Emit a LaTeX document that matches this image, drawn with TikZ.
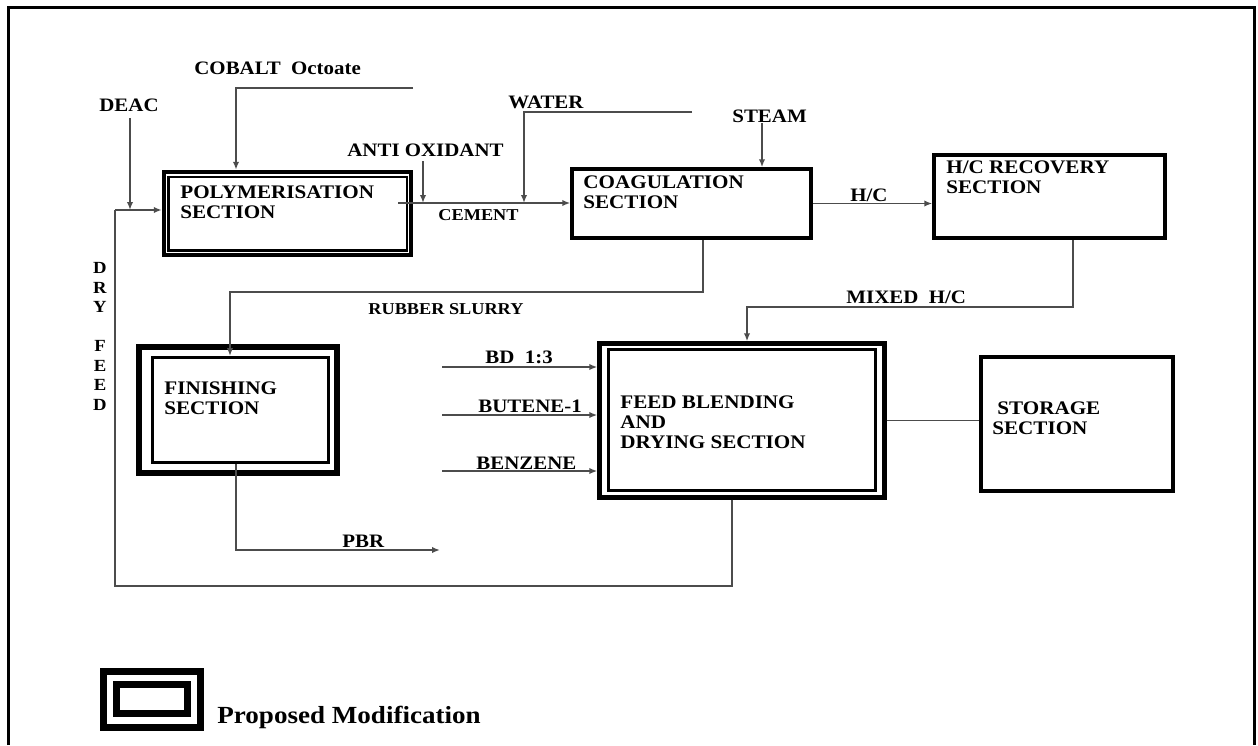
\documentclass[tikz,border=0pt]{standalone}
\usepackage{fontspec}
\setmainfont{Liberation Serif}[FakeStretch=1.1]
\usetikzlibrary{arrows.meta}
\begin{document}
\begin{tikzpicture}[x=0.5pt,y=-0.5pt,
  conn/.style={draw=black!70, line width=0.9pt},
  arr/.style={conn, -{Latex[length=4pt,width=3.2pt]}},
  lbl/.style={anchor=west, inner sep=0pt, font=\bfseries\fontsize{9.5pt}{10pt}\selectfont},
  slbl/.style={anchor=west, inner sep=0pt, font=\bfseries\fontsize{8.3pt}{10pt}\selectfont},
  btxt/.style={anchor=west, inner sep=0pt, align=left, font=\bfseries\fontsize{9.6pt}{10pt}\selectfont},
  sbox/.style={draw, line width=1.75pt, inner sep=0pt},
  obox/.style={draw, line width=2.2pt, inner sep=0pt},
  ibox/.style={draw, line width=1.3pt, inner sep=0pt}]
\useasboundingbox (0,0) rectangle (1258,745);
% frame
\draw[line width=1.5pt] (8.5,745) -- (8.5,7.5) -- (1254.5,7.5) -- (1254.5,745);

% boxes
\node[obox, minimum width=123.5pt, minimum height=41.5pt] (poly) at (287.5,213.5) {};
\node[ibox, line width=1.2pt, minimum width=119.25pt, minimum height=36.75pt] (polyin) at (287.75,213.75) {};
\node[sbox, minimum width=119.5pt, minimum height=34.5pt] (coag) at (691.5,203.5) {};
\node[sbox, minimum width=115.5pt, minimum height=41.5pt] (hcrec) at (1049.5,196.5) {};
\node[sbox, minimum width=96pt, minimum height=67pt] (storage) at (1077,424) {};
\node[obox, line width=2.6pt, minimum width=99pt, minimum height=63pt] (fin) at (238,410) {};
\node[ibox, line width=1.5pt, minimum width=88pt, minimum height=52.5pt] (finin) at (240.5,410) {};
\node[obox, minimum width=142.5pt, minimum height=77pt] (feed) at (742,420.5) {};
\node[ibox, line width=1.5pt, minimum width=133.5pt, minimum height=70.5pt] (feedin) at (742,420) {};

% box texts
\node[btxt] (tpoly) at (180,202) {POLYMERISATION\\SECTION};
\node[btxt] (tcoag) at (583,192) {COAGULATION\\SECTION};
\node[btxt] (thc) at (946,177) {H/C RECOVERY\\SECTION};
\node[btxt] (tfin) at (164,398.5) {FINISHING\\SECTION};
\node[btxt] (tfeed) at (620,422) {FEED BLENDING\\AND\\DRYING SECTION};
\node[btxt] (tstor) at (992,418) {\hspace{2.5pt}STORAGE\\SECTION};

% labels
\node[lbl] (cobalt) at (194,68) {COBALT\ \ Octoate};
\node[lbl] (deac) at (99,105) {DEAC};
\node[lbl] (antiox) at (347,150) {ANTI OXIDANT};
\node[lbl] (water) at (508,102) {WATER};
\node[lbl] (steam) at (732,116) {STEAM};
\node[slbl] (cement) at (438,215) {CEMENT};
\node[lbl] (hc) at (850,195) {H/C};
\node[slbl] (rubber) at (368,309) {RUBBER SLURRY};
\node[lbl] (mixed) at (846,297) {MIXED\ \ H/C};
\node[lbl] (bdl) at (485,357) {BD\ \ 1:3};
\node[lbl] (butl) at (478,406) {BUTENE-1};
\node[lbl] (benl) at (476,463) {BENZENE};
\node[lbl] (pbr) at (342,541) {PBR};
\node[inner sep=0pt, align=center, font=\bfseries\fontsize{8.5pt}{9.75pt}\selectfont] (dry) at (100,336.5) {D\\R\\Y\\\mbox{}\\F\\E\\E\\D};

% coordinates
\coordinate (dfjoin) at (115,210);
\coordinate (deacA) at (130,118);
\coordinate (dfb) at (732,586);
\coordinate (dfl) at (115,586);
\coordinate (cobend) at (413,88);
\coordinate (cobc) at (236,88);
\coordinate (ao) at (423,161);
\coordinate (cemstart) at (398,203);
\coordinate (wend) at (692,112);
\coordinate (wc) at (524,112);
\coordinate (stc) at (762,123);
\coordinate (rs1) at (703,292);
\coordinate (rs2) at (230,292);
\coordinate (mx1) at (1073,307);
\coordinate (mx2) at (747,307);
\coordinate (bd) at (442,367);
\coordinate (bu) at (442,415);
\coordinate (bz) at (442,471);
\coordinate (pb1) at (236,550);
\coordinate (pb2) at (440,550);

% connectors
\draw[arr] (deacA) -- (deacA |- dfjoin);
\draw[arr] (dfjoin) -- (dfjoin -| poly.west);
\draw[conn] (feed.south -| dfb) -- (dfb) -- (dfl) -- (dfjoin);
\draw[arr] (cobend) -- (cobc) -- (cobc |- poly.north);
\draw[arr] (cemstart) -- (cemstart -| coag.west);
\draw[arr] (ao) -- (ao |- cemstart);
\draw[arr] (wend) -- (wc) -- (wc |- cemstart);
\draw[arr] (stc) -- (stc |- coag.north);
\draw[arr] (coag.east) -- (coag.east -| hcrec.west);
\draw[arr] (coag.south -| rs1) -- (rs1) -- (rs2) -- (rs2 |- finin.north);
\draw[arr] (hcrec.south -| mx1) -- (mx1) -- (mx2) -- (mx2 |- feed.north);
\draw[arr] (bd) -- (bd -| feed.west);
\draw[arr] (bu) -- (bu -| feed.west);
\draw[arr] (bz) -- (bz -| feed.west);
\draw[conn] (feed.east) -- (feed.east -| storage.west);
\draw[arr] (finin.south -| pb1) -- (pb1) -- (pb2);

% legend
\node[draw, line width=3.5pt, inner sep=0pt, minimum width=48.5pt, minimum height=28pt] (lego) at (152,699.5) {};
\node[draw, line width=3.5pt, inner sep=0pt, minimum width=35.5pt, minimum height=14.5pt] (legi) at (152,699) {};
\node[anchor=west, inner sep=0pt, font=\bfseries\fontsize{12.3pt}{14pt}\selectfont] (legt) at (217,717) {Proposed Modification};
\end{tikzpicture}
\end{document}
